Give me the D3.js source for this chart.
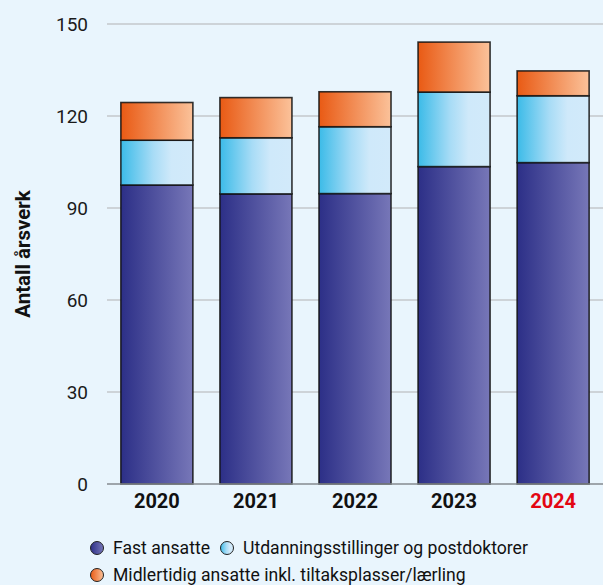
<!DOCTYPE html>
<html lang="no">
<head>
<meta charset="utf-8">
<script src="https://cdn.jsdelivr.net/npm/d3@7"></script>
<style>
  html, body { margin: 0; padding: 0; background: #e9f5fd; }
  svg { display: block; font-family: Roboto, "Noto Sans", sans-serif; }
</style>
</head>
<body>
<svg id="chart" width="603" height="585"></svg>
<script>
// Årsverk per år, fordelt på ansattkategori
const years = ["2020", "2021", "2022", "2023", "2024"];
const fastAnsatte = [97.5, 94.6, 94.7, 103.5, 104.8];
const utdanning = [14.6, 18.3, 21.8, 24.3, 21.8];
const midlertidig = [12.3, 13.1, 11.4, 16.3, 8.1];
const yTicks = [0, 30, 60, 90, 120, 150];
const seriesNames = [
  "Fast ansatte",
  "Utdanningsstillinger og postdoktorer",
  "Midlertidig ansatte inkl. tiltaksplasser/lærling"
];
const highlightYear = "2024";

const svg = d3.select("#chart");
const W = 603, H = 585;
const margin = { top: 24, right: 0, bottom: 101, left: 107 };
const FONT = "Roboto, Noto Sans, sans-serif";

const x = d3.scaleBand()
  .domain(years)
  .range([margin.left, W - margin.right])
  .paddingInner(0.273)
  .paddingOuter(0.14);

const y = d3.scaleLinear()
  .domain([0, 150])
  .range([H - margin.bottom, margin.top]);

// Gradients (left dark -> right light)
const defs = svg.append("defs");
const gradSpecs = [
  { id: "g-fast", stops: [[0, "#2c2f87"], [1, "#7777b8"]] },
  { id: "g-utd", stops: [[0, "#3bbbe8"], [0.45, "#a8dcf6"], [0.7, "#cfe9fa"], [1, "#d2eafa"]] },
  { id: "g-midl", stops: [[0, "#e95a14"], [1, "#fbc29a"]] }
];
gradSpecs.forEach(g => {
  const lg = defs.append("linearGradient").attr("id", g.id)
    .attr("x1", "0%").attr("x2", "100%").attr("y1", "0%").attr("y2", "0%");
  g.stops.forEach(([o, c]) => lg.append("stop").attr("offset", o).attr("stop-color", c));
});
const fills = ["url(#g-fast)", "url(#g-utd)", "url(#g-midl)"];

// Gridlines
svg.append("g")
  .selectAll("line")
  .data(yTicks.filter(d => d > 0))
  .join("line")
  .attr("x1", margin.left).attr("x2", W)
  .attr("y1", d => y(d)).attr("y2", d => y(d))
  .attr("stroke", "#c3c7cb").attr("stroke-width", 1.5);

// Y axis labels
const yAxis = d3.axisLeft(y).tickValues(yTicks).tickSize(0).tickPadding(0);
const yg = svg.append("g").attr("transform", `translate(${margin.left - 19},0)`).call(yAxis);
yg.select(".domain").remove();
yg.selectAll("text")
  .attr("font-size", 19)
  .attr("fill", "#1a1a1a")
  .attr("font-family", FONT);

// Stacked bars
const table = years.map((yr, i) => ({ year: yr, fast: fastAnsatte[i], utd: utdanning[i], midl: midlertidig[i] }));
const stack = d3.stack().keys(["fast", "utd", "midl"]);
const stacked = stack(table);

svg.append("g")
  .selectAll("g")
  .data(stacked)
  .join("g")
  .attr("fill", (d, i) => fills[i])
  .selectAll("rect")
  .data(d => d)
  .join("rect")
  .attr("x", d => x(d.data.year))
  .attr("width", x.bandwidth())
  .attr("y", d => y(d[1]))
  .attr("height", d => y(d[0]) - y(d[1]))
  .attr("stroke", "#111")
  .attr("stroke-opacity", 0.85)
  .attr("stroke-width", 1.6);

// Baseline
svg.append("line")
  .attr("x1", margin.left).attr("x2", W)
  .attr("y1", y(0)).attr("y2", y(0))
  .attr("stroke", "#858a8f").attr("stroke-width", 1.5);

// X axis labels
const xAxis = d3.axisBottom(x).tickSize(0).tickPadding(0);
const xg = svg.append("g").attr("transform", `translate(0,${y(0) + 10})`).call(xAxis);
xg.select(".domain").remove();
xg.selectAll("text")
  .attr("font-size", 20)
  .attr("font-weight", "bold")
  .attr("font-family", FONT)
  .attr("fill", d => d === highlightYear ? "#e30613" : "#111");

// Y axis title
svg.append("text")
  .attr("transform", `translate(30,${(y(0) + y(150)) / 2}) rotate(-90)`)
  .attr("text-anchor", "middle")
  .attr("font-size", 20.5)
  .attr("font-weight", "bold")
  .attr("fill", "#111")
  .text("Antall årsverk");

// Legend
const legendItems = [
  { name: seriesNames[0], fill: fills[0], cx: 97, cy: 548 },
  { name: seriesNames[1], fill: fills[1], cx: 227, cy: 548 },
  { name: seriesNames[2], fill: fills[2], cx: 97, cy: 575 }
];
const lg = svg.append("g");
const li = lg.selectAll("g").data(legendItems).join("g");
li.append("circle")
  .attr("cx", d => d.cx).attr("cy", d => d.cy).attr("r", 6.5)
  .attr("fill", d => d.fill)
  .attr("stroke", "#222").attr("stroke-width", 1);
li.append("text")
  .attr("x", d => d.cx + 16).attr("y", d => d.cy)
  .attr("dy", "0.35em")
  .attr("font-size", 17.6)
  .attr("fill", "#111")
  .text(d => d.name);
</script>
</body>
</html>
